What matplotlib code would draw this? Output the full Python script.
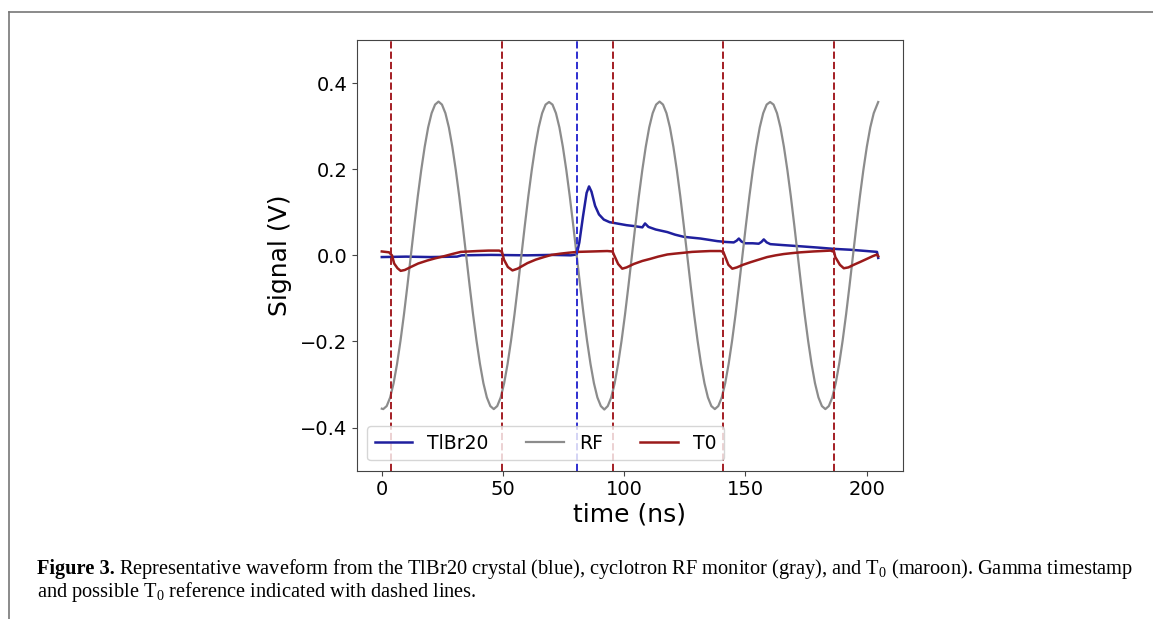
import numpy as np
import matplotlib
matplotlib.use("Agg")
import matplotlib.pyplot as plt
from matplotlib.lines import Line2D

# RF monitor (gray), ns / V
rf_time = [0.0,
           0.6, 2.025, 3.45, 4.875, 6.3, 7.725, 9.15, 10.575, 12.0, 13.425, 14.85, 16.275,
           17.7, 19.125, 20.55, 21.975, 23.4, 24.825, 26.25, 27.675, 29.1, 30.525, 31.95,
           33.375, 34.8, 36.225, 37.65, 39.075, 40.5, 41.925, 43.35, 44.775,
           46.2, 47.625, 49.05, 50.475, 51.9, 53.325, 54.75, 56.175, 57.6, 59.025, 60.45,
           61.875, 63.3, 64.725, 66.15, 67.575, 69.0, 70.425, 71.85, 73.275, 74.7, 76.125,
           77.55, 78.975, 80.4, 81.825, 83.25, 84.675, 86.1, 87.525, 88.95, 90.375,
           91.8, 93.225, 94.65, 96.075, 97.5, 98.925, 100.35, 101.775, 103.2, 104.625,
           106.05, 107.475, 108.9, 110.325, 111.75, 113.175, 114.6, 116.025, 117.45,
           118.875, 120.3, 121.725, 123.15, 124.575, 126.0, 127.425, 128.85, 130.275,
           131.7, 133.125, 134.55, 135.975,
           137.4, 138.825, 140.25, 141.675, 143.1, 144.525, 145.95, 147.375, 148.8,
           150.225, 151.65, 153.075, 154.5, 155.925, 157.35, 158.775, 160.2, 161.625,
           163.05, 164.475, 165.9, 167.325, 168.75, 170.175, 171.6, 173.025, 174.45,
           175.875, 177.3, 178.725, 180.15, 181.575,
           183.0, 184.425, 185.85, 187.275, 188.7, 190.125, 191.55, 192.975, 194.4,
           195.825, 197.25, 198.675, 200.1, 201.525, 202.95, 204.375, 204.8]
rf_vals = [-0.356,
           -0.357, -0.350, -0.330, -0.297, -0.252, -0.198, -0.137, -0.070, 0.000, 0.070,
           0.137, 0.198, 0.252, 0.297, 0.330, 0.350, 0.357, 0.350, 0.330, 0.297, 0.252,
           0.198, 0.137, 0.070, 0.000, -0.070, -0.137, -0.198, -0.252, -0.297, -0.330,
           -0.350,
           -0.357, -0.350, -0.330, -0.297, -0.252, -0.198, -0.137, -0.070, 0.000, 0.070,
           0.137, 0.198, 0.252, 0.297, 0.330, 0.350, 0.356, 0.350, 0.330, 0.297, 0.252,
           0.198, 0.137, 0.070, 0.000, -0.070, -0.137, -0.198, -0.252, -0.297, -0.330,
           -0.350,
           -0.358, -0.350, -0.330, -0.297, -0.252, -0.198, -0.137, -0.070, 0.000, 0.070,
           0.137, 0.198, 0.252, 0.297, 0.330, 0.350, 0.357, 0.350, 0.330, 0.297, 0.252,
           0.198, 0.137, 0.070, 0.000, -0.070, -0.137, -0.198, -0.252, -0.297, -0.330,
           -0.350,
           -0.357, -0.350, -0.330, -0.297, -0.252, -0.198, -0.137, -0.070, 0.000, 0.070,
           0.137, 0.198, 0.252, 0.297, 0.330, 0.350, 0.356, 0.350, 0.330, 0.297, 0.252,
           0.198, 0.137, 0.070, 0.000, -0.070, -0.137, -0.198, -0.252, -0.297, -0.330,
           -0.350,
           -0.357, -0.350, -0.330, -0.297, -0.252, -0.198, -0.137, -0.070, 0.000, 0.070,
           0.137, 0.198, 0.252, 0.297, 0.330, 0.350, 0.356]

# TlBr20 crystal signal (blue)
tlbr_time = [0, 10, 20, 31, 33, 45, 60, 70, 78, 80.4, 81.5, 83, 84.5, 85.5, 86.5, 88,
             89.6, 91.6, 94, 97, 101, 104, 107.5, 108.6, 110, 113, 117.8, 121, 124.6,
             128, 131.5, 135, 138.4, 142, 145.2, 146.4, 147.3, 148.4, 150, 153, 155.5,
             156.6, 157.6, 158.8, 160.3, 165, 172.7, 180, 186.5, 193.3, 200, 204.3, 204.8]
tlbr_vals = [-0.004, -0.003, -0.004, -0.003, 0.0, 0.001, 0.0, 0.001, 0.0, 0.002, 0.03,
             0.09, 0.145, 0.160, 0.148, 0.115, 0.095, 0.083, 0.077, 0.074, 0.070, 0.068,
             0.065, 0.074, 0.066, 0.060, 0.054, 0.048, 0.043, 0.041, 0.039, 0.036, 0.033,
             0.031, 0.030, 0.034, 0.039, 0.032, 0.028, 0.028, 0.027, 0.031, 0.037, 0.030,
             0.026, 0.024, 0.021, 0.018, 0.015, 0.013, 0.010, 0.008, -0.006]

# T0 (maroon)
t0_time = [0, 3.0, 4.2, 5.1, 6.5, 7.8, 9.5, 12, 15, 18.8, 22, 25.7, 29, 32.6, 36, 39.4,
           44, 48.4, 49.6, 50.4, 52, 53.9, 56, 60.1, 63.5, 66.9, 70, 73.8, 77, 80.7, 87,
           93, 95.2, 95.8, 97.5, 99.2, 101, 104, 107.5, 110.9, 114, 117.8, 121, 124.6,
           128, 131.5, 135.5, 139.7, 140.9, 141.8, 143, 144.6, 146.5, 149, 152.1, 155.5,
           159, 162.5, 165.8, 169, 172.7, 178, 185.1, 186.6, 187.1, 189, 190.6, 192.5,
           194.7, 197.5, 200.2, 202.5, 204.3, 204.8]
t0_vals = [0.009, 0.007, 0.0, -0.019, -0.030, -0.036, -0.034, -0.027, -0.019, -0.012,
           -0.007, -0.002, 0.003, 0.008, 0.009, 0.010, 0.011, 0.011, 0.008, -0.010,
           -0.027, -0.035, -0.031, -0.018, -0.010, -0.004, 0.001, 0.004, 0.006, 0.008,
           0.009, 0.010, 0.009, 0.001, -0.020, -0.031, -0.028, -0.020, -0.013, -0.008,
           -0.003, 0.002, 0.004, 0.006, 0.008, 0.009, 0.010, 0.010, 0.008, -0.005,
           -0.022, -0.031, -0.028, -0.022, -0.016, -0.010, -0.004, 0.000, 0.003, 0.005,
           0.007, 0.009, 0.011, 0.008, -0.004, -0.022, -0.030, -0.028, -0.022, -0.015,
           -0.008, -0.002, 0.002, -0.002]

t0_marks = [3.7, 49.5, 95.5, 140.8, 186.5]   # possible T0 references
gamma_mark = 80.4                            # gamma timestamp

caption_bold = "Figure 3."
caption_1 = ("Representative waveform from the TlBr20 crystal (blue), cyclotron RF monitor "
             r"(gray), and T$_{\rm 0}$ (maroon). Gamma timestamp")
caption_2 = r"and possible T$_{\rm 0}$ reference indicated with dashed lines."

plt.rcParams["mathtext.fontset"] = "custom"
plt.rcParams["mathtext.rm"] = "Liberation Serif"

fig = plt.figure(figsize=(11.53, 6.19), dpi=100)
ax = fig.add_axes([0.3096, 0.2396, 0.4736, 0.6958])

ax.plot(tlbr_time, tlbr_vals, color="#1f1f9e", lw=1.8, label="TlBr20")
ax.plot(rf_time, rf_vals, color="#8c8c8c", lw=1.6, label="RF")
ax.plot(t0_time, t0_vals, color="#9a1a1a", lw=1.8, label="T0")

for x in t0_marks:
    ax.axvline(x, color="#a31d24", ls="--", lw=1.4)
ax.axvline(gamma_mark, color="#2e2ed0", ls="--", lw=1.4)

ax.set_ylim(-0.5, 0.5)
ax.set_yticks([-0.4, -0.2, 0.0, 0.2, 0.4])
ax.set_xticks([0, 50, 100, 150, 200])
ax.tick_params(labelsize=14, color="#444444")
for s in ax.spines.values():
    s.set_color("#444444")
ax.set_xlabel("time (ns)", fontsize=18, labelpad=2)
ax.set_ylabel("Signal (V)", fontsize=18, labelpad=6)
ax.legend(loc="lower left", ncol=3, fontsize=13.5, borderaxespad=0.55)

# partial frame of the journal figure box
fig.add_artist(Line2D([9 / 1153, 1.0], [1 - 12 / 619, 1 - 12 / 619],
                      color="#777777", lw=1.2))
fig.add_artist(Line2D([9 / 1153, 9 / 1153], [0.0, 1 - 12 / 619],
                      color="#777777", lw=1.2))

# caption
cap_font = dict(family="Liberation Serif", fontsize=14.7)
r = fig.canvas.get_renderer()
tb = fig.text(37 / 1153, 1 - 569 / 619, caption_bold, weight="bold", va="center", **cap_font)
bb = tb.get_window_extent(r)
fig.text((bb.x1 + 4) / 1153, 1 - 569 / 619, caption_1, va="center", **cap_font)
fig.text(37 / 1153, 1 - 592 / 619, caption_2, va="center", **cap_font)

fig.savefig("out.png", dpi=100)
